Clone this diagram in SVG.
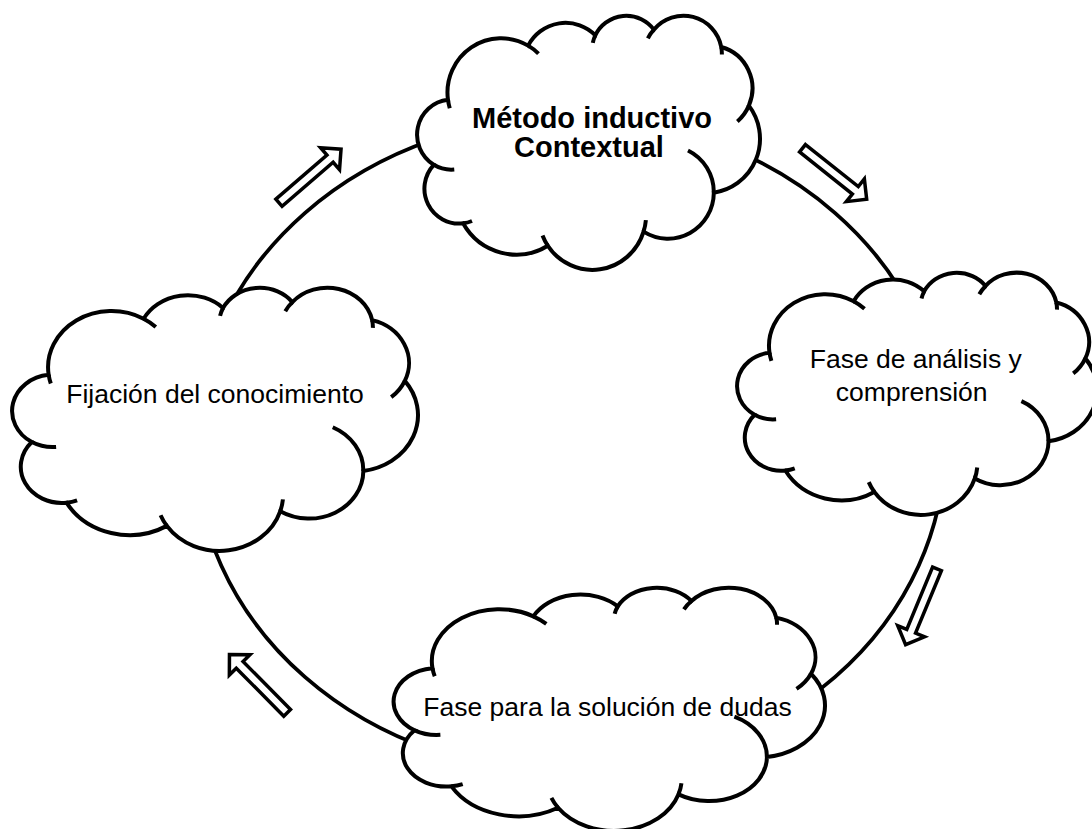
<svg xmlns="http://www.w3.org/2000/svg" xmlns:xlink="http://www.w3.org/1999/xlink" width="1092" height="829" viewBox="0 0 1092 829">
  <style>
    .cloud-fill { fill: #ffffff; stroke: #000000; stroke-width: 4; vector-effect: non-scaling-stroke; stroke-linejoin: miter; }
    .cloud-inner { fill: none; stroke: #000000; stroke-width: 4; vector-effect: non-scaling-stroke; stroke-linecap: butt; }
    .ring { fill: none; stroke: #000000; stroke-width: 3.8; }
    .blockarrow { fill: #ffffff; stroke: #000000; stroke-width: 3.5; stroke-linejoin: miter; }
    .lbl { font-family: "Liberation Sans", Arial, sans-serif; font-size: 26.5px; fill: #000000; text-anchor: middle; }
    .lbl-b { font-family: "Liberation Sans", Arial, sans-serif; font-size: 29px; font-weight: bold; fill: #000000; text-anchor: middle; }
  </style>
  <defs>
    <g id="cloud">
      <path class="cloud-fill" d="M3900 14370 A6753 9190 0 0 1 14000 5192 A5333 7267 0 0 1 22457 3432 A4365 5945 0 0 1 29834 2481 A4857 6595 0 0 1 38324 5426 A5333 7273 0 0 1 41798 15354 A6775 9220 0 0 1 37384 30097 A5785 7867 0 0 1 28536 36708 A6752 9215 0 0 1 16478 39090 A7720 10543 0 0 1 5802 35296 A4360 5918 0 0 1 2111 25374 A4345 5945 0 0 1 3900 14370 Z"/>
      <path class="cloud-inner" d="M4693 26177 A4345 5945 0 0 1 2111 25374 M6928 34899 A4360 5918 0 0 1 5802 35296 M16478 39090 A6752 9215 0 0 1 15810 37350 M28827 34751 A6752 9215 0 0 1 28536 36708 M34129 22954 A5785 7867 0 0 1 37384 30097 M41798 15354 A5333 7273 0 0 1 40350 18030 M38324 5426 A4857 6595 0 0 1 38400 6690 M29078 3952 A4857 6595 0 0 1 29834 2481 M22141 4720 A4365 5945 0 0 1 22457 3432 M14000 5192 A6753 9190 0 0 1 15300 6540 M4127 15789 A6753 9190 0 0 1 3900 14370"/>
    </g>
    <path id="arrowShape" class="blockarrow" d="M-41 -4.75 L26.5 -4.75 L26.5 -14.5 L41 0 L26.5 14.5 L26.5 4.75 L-41 4.75 Z"/>
  </defs>

  <g id="connectors">
    <ellipse class="ring" cx="570" cy="445" rx="375" ry="328"/>
    <use xlink:href="#arrowShape" href="#arrowShape" transform="translate(310,176) rotate(-40.8)"/>
    <use xlink:href="#arrowShape" href="#arrowShape" transform="translate(834.6,173.8) rotate(38.5)"/>
    <use xlink:href="#arrowShape" href="#arrowShape" transform="translate(921.3,606.8) rotate(112.5)"/>
    <use xlink:href="#arrowShape" href="#arrowShape" transform="translate(258.3,683.7) rotate(-134.7)"/>
  </g>

  <g id="node-metodo">
    <use xlink:href="#cloud" href="#cloud" transform="translate(417,15) scale(0.0079398,0.0059028)"/>
    <text class="lbl-b" x="592" y="128">Método inductivo</text>
    <text class="lbl-b" x="589" y="157">Contextual</text>
  </g>

  <g id="node-analisis">
    <use xlink:href="#cloud" href="#cloud" transform="translate(737,272) scale(0.0083333,0.005625)"/>
    <text class="lbl" x="915.8" y="368">Fase de análisis y</text>
    <text class="lbl" x="911.7" y="401">comprensión</text>
  </g>

  <g id="node-dudas">
    <use xlink:href="#cloud" href="#cloud" transform="translate(393.5,587) scale(0.0099884,0.0056481)"/>
    <text class="lbl" x="607.5" y="716">Fase para la solución de dudas</text>
  </g>

  <g id="node-fijacion">
    <use xlink:href="#cloud" href="#cloud" transform="translate(12,287) scale(0.0093981,0.0061111)"/>
    <text class="lbl" x="215" y="403">Fijación del conocimiento</text>
  </g>
</svg>
